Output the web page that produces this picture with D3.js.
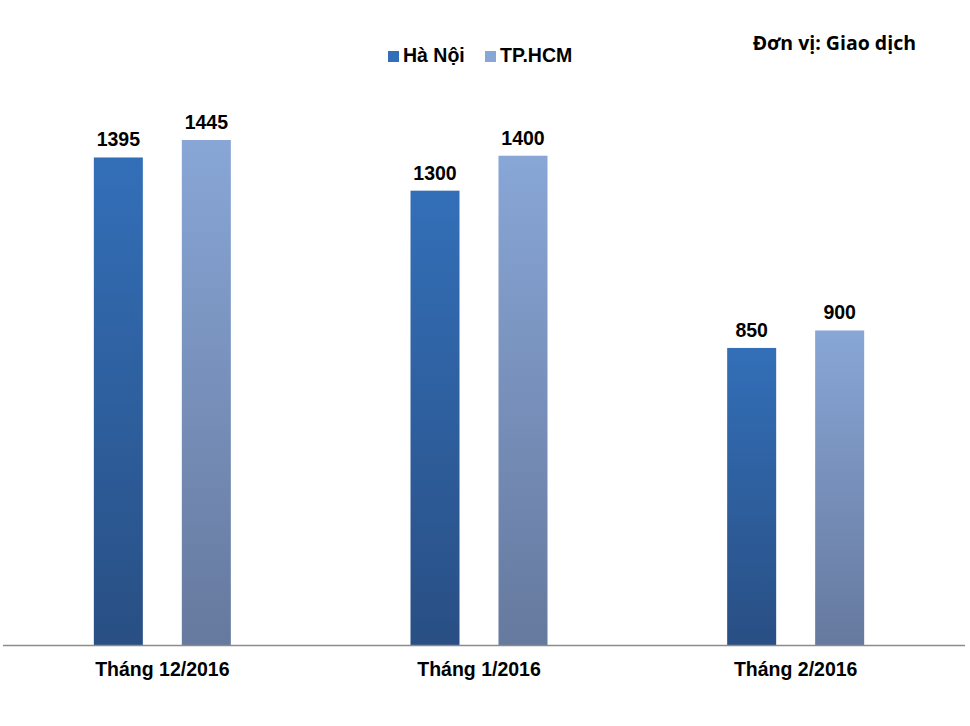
<!DOCTYPE html>
<html><head><meta charset="utf-8">
<script src="https://cdn.jsdelivr.net/npm/d3@7/dist/d3.min.js"></script>
<style>body{margin:0;background:#fff}svg{display:block}</style>
</head><body>
<svg id="c" width="970" height="726"></svg>
<script>
const categories = ["Tháng 12/2016", "Tháng 1/2016", "Tháng 2/2016"];
const seriesNames = ["Hà Nội", "TP.HCM"];
const haNoi = [1395, 1300, 850];
const tpHCM = [1445, 1400, 900];
const unitLabel = "Đơn vị: Giao dịch";

const svg = d3.select("#c");
const baseY = 645;
const x = d3.scaleBand().domain(categories).range([4, 954]);
const y = d3.scaleLinear().domain([0, 1445]).range([baseY, 140]);
const inner = d3.scaleBand().domain(seriesNames).range([0, 137]).paddingInner(0.443);

const defs = svg.append("defs");
const grads = [["#336fb8", "#294f84"], ["#88a6d6", "#66799e"]];
grads.forEach((g, i) => {
  const lg = defs.append("linearGradient").attr("id", "g" + i)
    .attr("x1", 0).attr("y1", 0).attr("x2", 0).attr("y2", 1);
  lg.append("stop").attr("offset", "0%").attr("stop-color", g[0]);
  lg.append("stop").attr("offset", "100%").attr("stop-color", g[1]);
});

const FONT = "Liberation Sans, Arial, sans-serif";
const series = [haNoi, tpHCM];
series.forEach((vals, si) => {
  const grp = svg.append("g");
  vals.forEach((v, ci) => {
    const bx = x(categories[ci]) + x.bandwidth() / 2 - 68.5 + inner(seriesNames[si]);
    grp.append("rect")
      .attr("x", bx).attr("y", y(v))
      .attr("width", inner.bandwidth()).attr("height", baseY - y(v))
      .attr("fill", `url(#g${si})`);
    grp.append("text")
      .attr("x", bx + inner.bandwidth() / 2).attr("y", y(v) - 11)
      .attr("text-anchor", "middle")
      .attr("font-family", FONT)
      .attr("font-weight", "bold").attr("font-size", 19.5).attr("fill", "#000")
      .text(v);
  });
});

// axis
const axis = svg.append("g").attr("transform", `translate(0,${baseY})`)
  .call(d3.axisBottom(x).tickSize(0).tickPadding(17));
axis.select(".domain").remove();
axis.append("line").attr("x1", 3).attr("x2", 965).attr("y1", 0.5).attr("y2", 0.5)
  .attr("stroke", "#8c8c8c").attr("stroke-width", 1.5);
axis.selectAll(".tick text")
  .attr("font-family", FONT)
  .attr("font-weight", "bold").attr("font-size", 19.5).attr("fill", "#000");

// legend
const legendX = [388, 485];
seriesNames.forEach((n, i) => {
  svg.append("rect").attr("x", legendX[i]).attr("y", 51).attr("width", 11).attr("height", 11)
    .attr("fill", grads[i][0]);
  svg.append("text").attr("x", legendX[i] + 15).attr("y", 62)
    .attr("font-family", FONT)
    .attr("font-weight", "bold").attr("font-size", 19.5).attr("fill", "#000")
    .text(n);
});

svg.append("text").attr("x", 916).attr("y", 50).attr("text-anchor", "end")
  .attr("font-family", "Open Sans, sans-serif").attr("font-weight", 700)
  .attr("font-size", 19.5).attr("fill", "#000").text(unitLabel);
</script>
</body></html>
